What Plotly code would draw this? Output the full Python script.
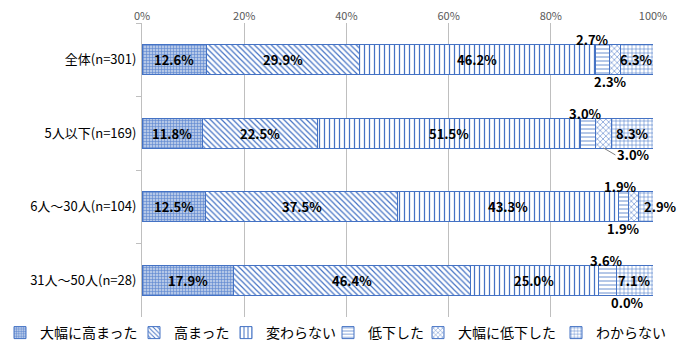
import plotly.graph_objects as go

categories = ["全体(n=301)", "5人以下(n=169)", "6人～30人(n=104)", "31人～50人(n=28)"]
series_names = ["大幅に高まった", "高まった", "変わらない", "低下した", "大幅に低下した", "わからない"]
s1 = [12.6, 11.8, 12.5, 17.9]
s2 = [29.9, 22.5, 37.5, 46.4]
s3 = [46.2, 51.5, 43.3, 25.0]
s4 = [2.7, 3.0, 1.9, 3.6]
s5 = [2.3, 3.0, 1.9, 0.0]
s6 = [6.3, 8.3, 2.9, 7.1]
x_ticks = [0, 20, 40, 60, 80, 100]

series = [s1, s2, s3, s4, s5, s6]

# styling
BLUE = "#4472C4"
patterns = [
    dict(shape="+", size=3, solidity=0.35, fgcolor="#5B84CF", bgcolor="#B4C7E7", fillmode="replace"),
    dict(shape="\\", size=4, solidity=0.3, fgcolor=BLUE, bgcolor="white", fillmode="replace"),
    dict(shape="|", size=5, solidity=0.25, fgcolor=BLUE, bgcolor="white", fillmode="replace"),
    dict(shape="-", size=4, solidity=0.2, fgcolor=BLUE, bgcolor="white", fillmode="replace"),
    dict(shape="x", size=4, solidity=0.25, fgcolor=BLUE, bgcolor="white", fillmode="replace"),
    dict(shape="+", size=4, solidity=0.25, fgcolor=BLUE, bgcolor="white", fillmode="replace"),
]
label_yshift = [0, 0, 0, 20, -22, 0]
label_xshift = {
    (3, 0): -10, (3, 1): -3, (3, 2): -3, (3, 3): -1,
    (4, 0): -4, (4, 2): -10, (4, 3): 11,
    (5, 2): 15,
}
leader = {(4, 1): (12, 7)}
# legend entry left edges (px from page left)
legend_left_px = [-2, 134, 226, 328, 418, 556]

W, H = 680, 350
LABEL_FONT = dict(family="Noto Sans CJK JP", size=13, color="black", weight="bold")

fig = go.Figure()
legend_layouts = {}
for i, (name, vals) in enumerate(zip(series_names, series)):
    lname = "legend" if i == 0 else f"legend{i + 1}"
    fig.add_trace(go.Bar(
        y=categories, x=vals, name=name, orientation="h",
        marker=dict(color="white", line=dict(color=BLUE, width=1), pattern=patterns[i]),
        hoverinfo="skip", legend=lname,
    ))
    legend_layouts[lname] = dict(
        orientation="h", x=legend_left_px[i] / W, xanchor="left", xref="container",
        y=1 - 333 / H, yanchor="middle", yref="container",
        font=dict(size=14, color="black"), itemwidth=30,
        bgcolor="rgba(0,0,0,0)", borderwidth=0,
    )

annotations = []
for ci, cat in enumerate(categories):
    cum = 0.0
    for si, vals in enumerate(series):
        v = vals[ci]
        center = cum + v / 2
        cum += v
        text = f"{v:.1f}%"
        if (si, ci) in leader:
            ax, ay = leader[(si, ci)]
            annotations.append(dict(
                x=center, y=ci + 0.2, xref="x", yref="y", text=text,
                showarrow=True, arrowhead=0, arrowwidth=1, arrowcolor="#808080",
                ax=ax, ay=ay, xanchor="left", yanchor="middle", font=LABEL_FONT,
            ))
            continue
        annotations.append(dict(
            x=center, y=ci, xref="x", yref="y", text=text, showarrow=False,
            xshift=label_xshift.get((si, ci), 0), yshift=label_yshift[si],
            font=LABEL_FONT,
        ))

fig.update_layout(
    barmode="stack",
    bargap=0.59,
    width=W, height=H,
    margin=dict(l=142, r=27, t=23, b=33, autoexpand=False),
    paper_bgcolor="white", plot_bgcolor="white",
    font=dict(family="Noto Sans CJK JP", size=13, color="#000000"),
    annotations=annotations,
    xaxis=dict(
        side="top", range=[0, 100], tickvals=x_ticks,
        ticktext=[f"{t}%" for t in x_ticks], tickangle=0,
        showgrid=True, gridcolor="#BFBFBF", gridwidth=1,
        zeroline=False, showline=False, ticks="",
        tickfont=dict(size=11, color="#595959"),
    ),
    yaxis=dict(
        autorange="reversed", showline=True, linecolor="#BFBFBF",
        ticks="outside", tickson="boundaries", ticklen=5, tickcolor="#BFBFBF",
        tickfont=dict(size=13, color="black"), ticklabelstandoff=2,
    ),
    showlegend=True,
    **legend_layouts,
)

fig.write_html("out.html")
